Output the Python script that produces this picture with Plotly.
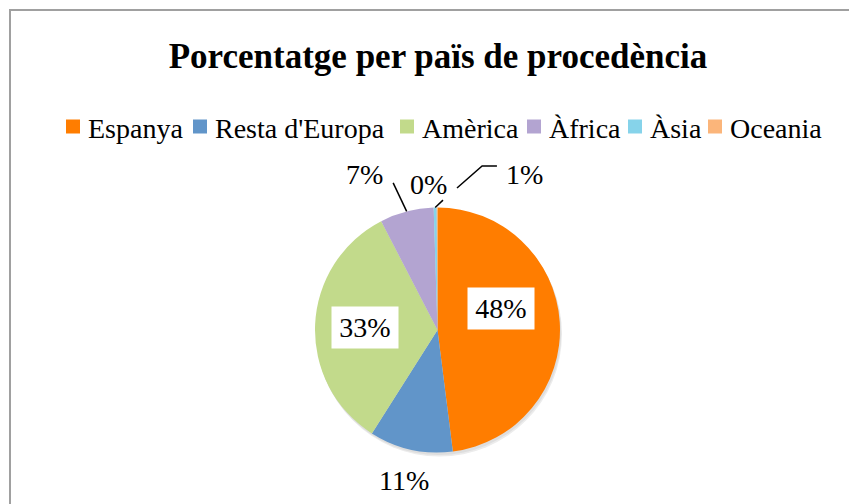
import math
import plotly.graph_objects as go

# ---------------- data ----------------
categories = ["Espanya", "Resta d'Europa", "Amèrica", "Àfrica", "Àsia", "Oceania"]
values = [48, 11, 33.4, 7.1, 0.4, 0.1]
pct_labels = ["48%", "11%", "33%", "7%", "0%", "1%"]
title_text = "Porcentatge per païs de procedència"

# ---------------- style ----------------
slice_colors = ["#FF7D00", "#6195C9", "#C2DA8B", "#B3A4D1", "#86D3EA", "#FBB57A"]
W, H = 849, 504
CX, CY, R = 437.5, 330.0, 122.5          # pie centre / radius in px
FONT = "Liberation Serif"
# label placement relative to each slice's mid angle: (angle offset deg, radius factor, boxed)
label_style = [
    (-14.7, 0.546, True),
    (0.0, 1.255, False),
    (-0.9, 0.592, True),
    (-10.5, 1.406, False),
    (-2.6, 1.194, False),
    (29.2, 1.456, False),
]
# leader lines: polyline points (angle offset deg, radius factor)
leader_style = [
    None, None, None,
    [(0.0, 1.0), (-2.2, 1.254)],
    [(0.0, 1.0), (3.5, 1.061)],
    [(8.0, 1.17), (15.4, 1.387), (20.1, 1.424)],
]
legend_left = [66, 193, 400, 527, 628, 708]   # px, left edge of each legend square
LEG_Y, LEG_SQ = 126.5, 14


def to_paper(px, py):
    return px / W, 1 - py / H


def polar(theta_deg, f):
    t = math.radians(theta_deg)
    return to_paper(CX + R * f * math.sin(t), CY - R * f * math.cos(t))


total = sum(values)
mids = []
cum = 0.0
for v in values:
    mids.append((cum + v / 2) / total * 360.0)
    cum += v

fig = go.Figure()
# soft drop shadow under the pie
for off, col in [(4, "#ececec"), (2.5, "#dedede")]:
    fig.add_trace(go.Pie(
        labels=["total"], values=[total], sort=False, textinfo="none", hoverinfo="skip",
        showlegend=False, marker=dict(colors=[col], line=dict(width=0)),
        domain=dict(x=[(CX - R + off / 2) / W, (CX + R + off / 2) / W],
                    y=[1 - (CY + R + off) / H, 1 - (CY - R + off) / H]),
    ))
fig.add_trace(go.Pie(
    labels=categories, values=values, sort=False, direction="clockwise", rotation=0,
    marker=dict(colors=slice_colors, line=dict(width=0)),
    textinfo="none", hoverinfo="label+percent", showlegend=False,
    domain=dict(x=[(CX - R) / W, (CX + R) / W], y=[1 - (CY + R) / H, 1 - (CY - R) / H]),
))

annotations = []
shapes = []

# data labels
for lab, mid, (dth, f, boxed) in zip(pct_labels, mids, label_style):
    x, y = polar(mid + dth, f)
    a = dict(x=x, y=y, xref="paper", yref="paper", text=lab, showarrow=False,
             xanchor="center", yanchor="middle",
             font=dict(family=FONT, size=28, color="black"))
    if boxed:
        a.update(bgcolor="white", width=64, height=39, borderpad=1)
    annotations.append(a)

# leader lines
for mid, pts in zip(mids, leader_style):
    if not pts:
        continue
    coords = [polar(mid + d, f) for d, f in pts]
    path = "M " + " L ".join(f"{px:.5f},{py:.5f}" for px, py in coords)
    shapes.append(dict(type="path", path=path, xref="paper", yref="paper",
                       line=dict(color="black", width=1.5)))

# legend (squares + text)
for name, col, left in zip(categories, slice_colors, legend_left):
    x0, y0 = to_paper(left, LEG_Y + LEG_SQ / 2)
    x1, y1 = to_paper(left + LEG_SQ, LEG_Y - LEG_SQ / 2)
    shapes.append(dict(type="rect", xref="paper", yref="paper", x0=x0, x1=x1, y0=y0, y1=y1,
                       fillcolor=col, line=dict(width=0)))
    tx, ty = to_paper(left + LEG_SQ + 6, LEG_Y + 1.5)
    annotations.append(dict(x=tx, y=ty, xref="paper", yref="paper", text=name, showarrow=False,
                            xanchor="left", yanchor="middle",
                            font=dict(family=FONT, size=28, color="black")))

# chart-area border (left and top visible)
bx0, by1 = to_paper(10, 10)
shapes.append(dict(type="rect", xref="paper", yref="paper", x0=bx0, x1=1.05, y0=-0.05, y1=by1,
                   line=dict(color="#A0A0A0", width=2), fillcolor="rgba(0,0,0,0)", layer="below"))

tx, ty = to_paper(438, 56)
fig.update_layout(
    width=W, height=H,
    margin=dict(l=0, r=0, t=0, b=0),
    paper_bgcolor="white", plot_bgcolor="white",
    title=dict(text=title_text, x=tx, y=ty, xref="paper", yref="paper",
               xanchor="center", yanchor="middle",
               font=dict(family=FONT, size=35, color="black", weight="bold")),
    annotations=annotations,
    shapes=shapes,
)

fig.write_html("out.html", config={"displayModeBar": False},
               post_script="document.body.style.margin='0px';")
